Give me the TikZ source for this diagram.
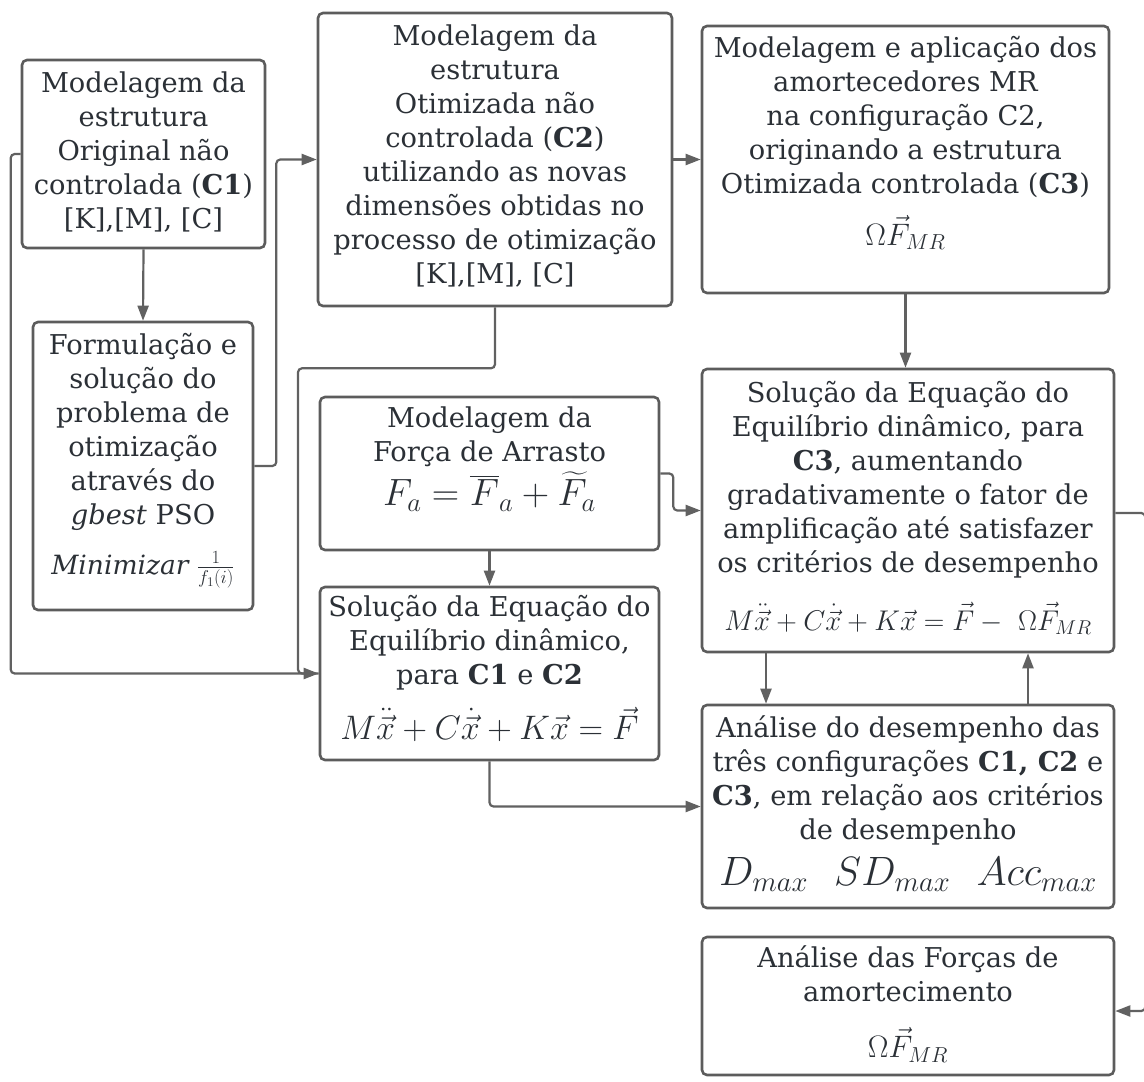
\RequirePackage{fix-cm}
\documentclass[tikz,border=0pt]{standalone}
\usepackage{amsmath}
\usepackage{fontspec}
\setmainfont{DejaVu Serif}
\usetikzlibrary{arrows.meta}
\usetikzlibrary{positioning}
\definecolor{boxgray}{rgb}{0.36,0.36,0.36}
\definecolor{linegray}{rgb}{0.38,0.38,0.38}
\definecolor{inkgray}{rgb}{0.17,0.19,0.21}

\begin{document}
\begin{tikzpicture}[x=1pt,y=-1pt,
  box/.style={draw=boxgray, line width=2.6pt, rounded corners=5pt, inner sep=0pt},
  txt/.style={align=center, inner sep=0pt, text=inkgray, font=\fontsize{27.3}{34}\selectfont},
  conn/.style={draw=linegray, line width=2.2pt, rounded corners=4pt, -{Triangle[length=15pt,width=11pt]}},
  link/.style={draw=linegray, line width=2.2pt, rounded corners=4pt}]
\useasboundingbox (0,0) rectangle (1144,1082);
% boxes
\node[box, minimum width=243, minimum height=188] (orig) at (143.5,154) {};
\node[box, minimum width=220, minimum height=288] (form) at (143,466) {};
\node[box, minimum width=354, minimum height=293] (opt) at (495,159.5) {};
\node[box, minimum width=407, minimum height=267] (mr) at (905.5,159.5) {};
\node[box, minimum width=339, minimum height=153] (arr) at (489.5,473.5) {};
\node[box, minimum width=339, minimum height=173] (solc12) at (489.5,673.5) {};
\node[box, minimum width=412, minimum height=283] (solc3) at (908,510.5) {};
\node[box, minimum width=412, minimum height=203] (desemp) at (908,806.5) {};
\node[box, minimum width=412, minimum height=138] (forcas) at (908,1006) {};
% texts
\node[txt, below=13pt of orig.north] (origtxt) {Modelagem da\\estrutura\\Original não\\controlada (\textbf{C1})\\{}[K],[M], [C]};
\node[txt, below=12pt of form.north] (formtxt) {Formulação e\\solução do\\problema de\\otimização\\através do\\\textit{gbest} PSO\\[16pt]{\fontsize{26.5}{28}\selectfont$\mathit{Minimizar}\ \frac{1}{f_1(i)}$}};
\node[txt, below=13pt of opt.north] (opttxt) {Modelagem da\\estrutura\\Otimizada não\\controlada (\textbf{C2})\\utilizando as novas\\dimensões obtidas no\\processo de otimização\\{}[K],[M], [C]};
\node[txt, below=11pt of mr.north] (mrtxt) {Modelagem e aplicação dos\\amortecedores MR\\na configuração C2,\\originando a estrutura\\Otimizada controlada (\textbf{C3})\\[17pt]{\fontsize{31}{34}\selectfont$\Omega\vec{F}_{MR}$}};
\node[txt, below=11pt of arr.north] (arrtxt) {Modelagem da\\Força de Arrasto\\[4pt]{\fontsize{38}{42}\selectfont$F_a=\overline{F}_a+\widetilde{F}_a$}};
\node[txt, below=9pt of solc12.north] (solc12txt) {Solução da Equação do\\Equilíbrio dinâmico,\\para \textbf{C1} e \textbf{C2}\\[16pt]{\fontsize{34}{38}\selectfont$M\ddot{\vec{x}}+C\dot{\vec{x}}+K\vec{x}=\vec{F}$}};
\node[txt, below=13pt of solc3.north] (solc3txt) {Solução da Equação do\\Equilíbrio dinâmico, para\\\textbf{C3}, aumentando\\gradativamente o fator de\\amplificação até satisfazer\\os critérios de desempenho\\[24pt]{\fontsize{28.5}{32}\selectfont$M\ddot{\vec{x}}+C\dot{\vec{x}}+K\vec{x}=\vec{F}-\ \Omega\vec{F}_{MR}$}};
\node[txt, below=12pt of desemp.north] (desemptxt) {Análise do desempenho das\\três configurações \textbf{C1, C2} e\\\textbf{C3}, em relação aos critérios\\de desempenho\\[12pt]{\fontsize{41}{44}\selectfont$D_{max}\ \ SD_{max}\ \ Acc_{max}$}};
\node[txt, below=10pt of forcas.north] (forcastxt) {Análise das Forças de\\amortecimento\\[22pt]{\fontsize{31}{34}\selectfont$\Omega\vec{F}_{MR}$}};
% connectors
\draw[conn] (orig.south) -- (form.north);
\draw[conn] (orig.west) -- ++(-10,0) |- (solc12.west);
\draw[link] (opt.south) -- ++(0,61) -- ++(-197,0) |- (solc12.west);
\draw[conn] (form.east) -- ++(22,0) |- (opt.west);
\draw[conn] (opt.east) -- (opt.east -| mr.west);
\draw[conn] (mr.south) -- (mr.south |- solc3.north);
\draw[conn] (arr.south) -- (solc12.north);
\draw[conn] (arr.east) -- ++(13,0) |- (solc3.west);
\draw[conn] ([xshift=-142pt]solc3.south) -- ([xshift=-142pt]solc3.south |- desemp.north);
\draw[conn] ([xshift=120pt]desemp.north) -- ([xshift=120pt]desemp.north |- solc3.south);
\draw[conn] (solc12.south) |- (desemp.west);
\draw[conn] ([yshift=-2.5pt]solc3.east) -- ++(30,0) |- ([yshift=-5pt]forcas.east);
\end{tikzpicture}
\end{document}
